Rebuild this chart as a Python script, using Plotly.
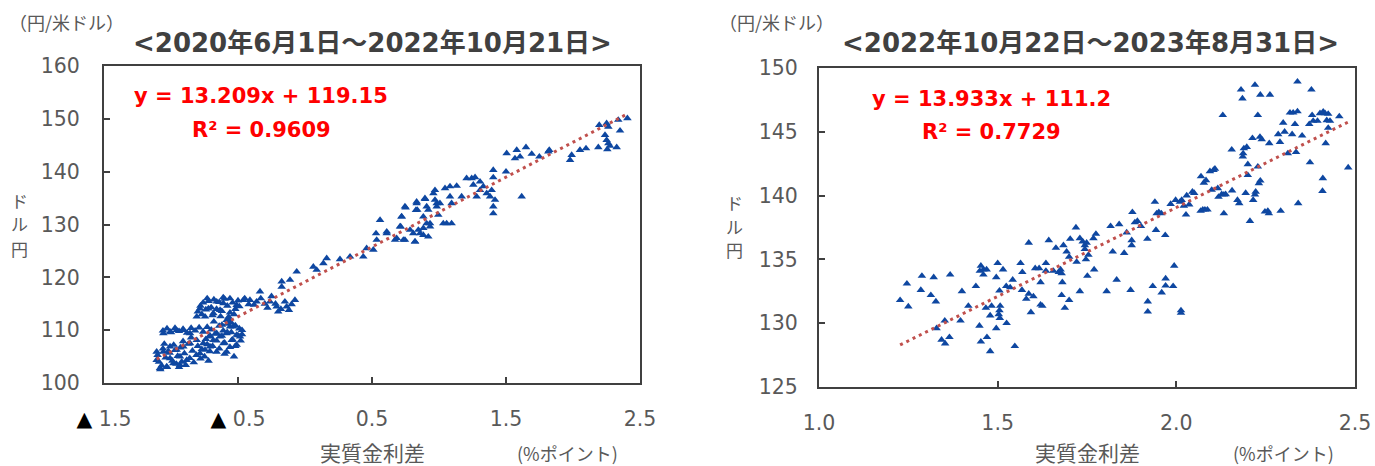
import plotly.graph_objects as go

W, H = 1375, 466

# ---------------- data ----------------
# Left panel: 2020/6/1 - 2022/10/21  (x: real rate differential, y: USD/JPY)
left_x = [
    0.970, 0.895, 0.833, 0.908, 0.983, 0.746, 0.828, 0.721, 0.709, 0.883, 0.933,
    0.560, 0.530, 0.535, 0.610, 0.684, 0.746, 0.784, 0.821, 0.858, 0.883, 0.920,
    0.510, 0.460, 0.435, 0.336, 0.261, 0.162, 0.137, 0.062, 0.087, -0.062,
    -0.112, -0.174, -0.174, -0.075, -0.137, -0.212, -0.261, -0.336, -0.361,
    -0.411, -0.460, -0.510, -0.560, -0.609, -0.659, -0.721, -0.784, -0.808,
    -0.746, -0.684, -0.634, -0.585, -0.535, -0.510, -0.547, -0.585, -0.609,
    -0.659, -0.709, -0.759, -0.808, -0.858, -0.908, -0.958, -1.007, -1.057,
    -0.858, -0.908, -0.958, -1.007, -1.057, -1.107, -1.107, -1.082, -1.032,
    -0.983, -0.933, -0.883, -1.007, -0.933, -0.784, -0.746, -0.709, -0.684,
    -0.634, -0.585, -0.560, -0.485, -0.510,
    0.610, 0.672, 0.734, 0.714, 0.721, 0.751, 0.821, 0.808, 0.846, 0.883, 0.933,
    0.908, 0.833, 0.838, 0.896, 0.920, 0.958, 0.970, 0.983, 0.995, 1.007, 1.032,
    1.057, 1.094, 1.045, 1.082, 1.132, 1.082, 1.094, 1.169, 1.206, 1.244, 1.269,
    1.306, 1.256, 1.281, 1.306, 1.331, 1.356, 1.381, 1.405, 1.405, 1.405, 1.405,
    1.393, 1.418, 1.505, 1.500, 1.567, 1.580, 1.605, 1.649, 1.617, 1.692, 1.749,
    1.816, 1.823, 1.978, 1.990, 2.052, 2.097, 2.189, 2.196, 2.251, 2.264, 2.239,
    2.251, 2.264, 2.276, 2.256, 2.326, 2.338, 2.351, 2.406,
    # dense cluster, upper band
    -0.80, -0.78, -0.76, -0.74, -0.72, -0.70, -0.68, -0.66, -0.64, -0.62, -0.60,
    -0.58, -0.56, -0.54, -0.52, -0.50, -0.77, -0.69, -0.63, -0.57, -0.53, -0.49,
    -0.73, -0.61,
    # band around 110
    -1.06, -1.03, -1.00, -0.97, -0.94, -0.91, -0.88, -0.85, -0.82, -0.79, -0.76,
    -0.73, -0.70, -0.67, -0.64, -0.61, -0.58, -0.55, -0.52, -0.49, -0.47,
    # lower-left blob
    -1.10, -1.09, -1.07, -1.06, -1.04, -1.03, -1.01, -0.99, -0.98, -0.96, -0.95,
    -0.93, -0.92, -0.90, -0.89, -0.87, -0.86, -0.84, -0.83, -0.81, -0.80, -0.78,
    -0.77, -0.75, -0.73, -0.72, -1.05, -1.02, -0.97, -0.91, -0.85, -0.94, -1.08,
    # middle blob
    -0.74, -0.71, -0.69, -0.66, -0.64, -0.62, -0.60, -0.58, -0.56, -0.54, -0.52,
    -0.50, -0.48, -0.47, -0.55, -0.62, -0.68, -0.60, -0.66, -0.71, -0.53, -0.57,
    # cluster around 115
    -0.33, -0.30, -0.28, -0.25, -0.22, -0.18, -0.15, -0.12, -0.10, -0.20, -0.38,
    -0.45, -0.42,
]
left_y = [
    136.5, 134.95, 134.3, 133.4, 134.0, 133.4, 132.74, 131.48, 129.6, 131.48, 130.2,
    130.85, 128.3, 127.07, 128.65, 127.4, 127.07, 128.96, 126.75, 128.3, 129.3, 127.7,
    125.2, 125.5, 123.9, 123.9, 123.4, 123.6, 122.65, 122.0, 121.4, 121.07,
    119.5, 119.2, 118.2, 115.7, 114.45, 114.45, 115.4, 117.3, 115.4,
    115.7, 115.7, 114.76, 116.0, 115.08, 115.4, 114.1, 114.1, 112.55,
    112.55, 113.2, 113.8, 111.9, 110.66, 109.1, 108.1, 105.9, 107.5,
    109.4, 108.8, 107.5, 108.1, 109.4, 110.0, 110.0, 109.7, 109.4,
    107.5, 106.9, 106.25, 106.9, 105.9, 105.9, 104.35, 102.8, 103.1,
    103.7, 103.4, 104.35, 104.67, 105.0, 105.6, 106.25, 106.9, 108.1,
    108.8, 109.4, 110.66, 108.8, 107.2,
    128.33, 127.07, 127.07, 129.6, 131.5, 133.2, 126.75, 128.33, 128.96, 128.0, 129.6,
    130.2, 134.0, 132.75, 134.8, 132.75, 135.9, 134.64, 133.4, 131.8, 134.0, 130.2,
    130.2, 130.2, 136.85, 137.2, 137.3, 135.3, 134.0, 135.3, 138.75, 138.75, 138.93,
    138.1, 137.5, 135.3, 136.5, 137.2, 135.9, 135.3, 140.3, 138.9, 133.4, 132.1,
    136.5, 134.64, 143.47, 140.0, 142.5, 144.1, 142.84, 144.6, 135.3, 143.35, 142.84,
    143.8, 144.1, 142.2, 143.15, 144.1, 144.4, 144.6, 148.83, 149.15, 148.5, 146.94,
    145.99, 145.36, 144.86, 144.23, 144.6, 149.8, 147.76, 150.1,
    113.5, 114.6, 115.2, 113.9, 115.5, 114.3, 115.8, 114.0, 115.3, 113.6, 115.9,
    114.6, 113.3, 115.2, 114.0, 115.6, 113.0, 112.8, 112.6, 112.1, 113.0, 114.5,
    116.0, 116.2,
    109.9, 110.3, 109.6, 110.4, 109.8, 110.2, 109.5, 110.4, 109.9, 110.5, 109.7,
    110.6, 110.1, 109.3, 110.8, 109.9, 111.2, 109.6, 110.9, 110.3, 109.2,
    105.3, 104.0, 103.3, 106.5, 104.8, 103.0, 105.7, 104.2, 107.2, 103.6, 105.1,
    106.7, 104.0, 105.6, 103.4, 107.4, 104.7, 106.1, 103.9, 105.3, 107.0, 104.6,
    106.4, 105.0, 107.3, 104.2, 107.4, 106.0, 106.2, 107.9, 108.6, 103.0, 102.6,
    108.3, 109.0, 107.0, 108.0, 106.5, 108.9, 107.6, 109.6, 106.8, 108.2, 107.0,
    109.0, 108.0, 110.0, 111.4, 111.0, 111.6, 105.5, 105.9, 106.0, 105.0, 112.5,
    116.0, 115.0, 114.2, 116.4, 115.0, 114.0, 115.4, 113.8, 114.9, 113.5, 114.8,
    116.0, 114.9,
]
left_slope, left_intercept, left_r2 = 13.209, 119.15, 0.9609

# Right panel: 2022/10/22 - 2023/8/31
right_x = [
    1.227, 1.246, 1.250, 1.288, 1.285, 1.321, 1.313, 1.327, 1.329, 1.352, 1.343,
    1.353, 1.365, 1.367, 1.396, 1.400, 1.418, 1.439, 1.450, 1.453, 1.460, 1.469,
    1.460, 1.449, 1.453, 1.470, 1.479, 1.467, 1.483, 1.479, 1.496, 1.500, 1.505,
    1.505, 1.503, 1.506, 1.507, 1.496, 1.515, 1.525, 1.524, 1.535, 1.542, 1.564,
    1.569, 1.568, 1.548, 1.580, 1.587, 1.593, 1.587, 1.600, 1.605, 1.616, 1.620,
    1.620, 1.625, 1.635, 1.635, 1.643, 1.656, 1.663, 1.671, 1.676, 1.679, 1.681,
    1.684, 1.679, 1.688, 1.693, 1.700, 1.703, 1.700, 1.721, 1.719,
    1.730, 1.738, 1.744, 1.749, 1.744, 1.754, 1.747, 1.730, 1.751, 1.770, 1.775,
    1.768, 1.805, 1.816, 1.822, 1.833, 1.840, 1.854, 1.861, 1.872, 1.875, 1.875,
    1.877, 1.884, 1.891, 1.901, 1.919, 1.920, 1.920, 1.934, 1.940, 1.943, 1.945,
    1.951, 1.958, 1.959, 1.969, 1.970, 1.970, 1.984, 1.991, 1.994, 1.998, 2.010,
    2.013, 2.013, 2.015, 2.021, 2.027, 2.029, 2.036, 2.045, 2.050, 2.068, 2.069,
    2.074, 2.077, 2.083, 2.080, 2.087, 2.094, 2.099, 2.104, 2.108, 2.116, 2.118,
    2.127, 2.133, 2.138, 2.133, 2.130, 2.155, 2.156, 2.171, 2.176, 2.181, 2.185,
    2.186, 2.187, 2.189, 2.197, 2.194, 2.200, 2.200, 2.206, 2.213, 2.215, 2.220,
    2.222, 2.220, 2.228, 2.228, 2.231, 2.235, 2.234, 2.239, 2.235, 2.248, 2.256,
    2.259, 2.262, 2.260, 2.285, 2.290, 2.292, 2.299, 2.303, 2.318, 2.324, 2.327,
    2.332, 2.339, 2.339, 2.312, 2.335, 2.341, 2.352, 2.372, 2.374, 2.378, 2.380,
    2.383, 2.395, 2.402, 2.410, 2.409, 2.411, 2.416, 2.421, 2.425, 2.425, 2.418,
    2.430, 2.456, 2.481,
]
right_y = [
    131.8, 133.1, 131.3, 133.7, 132.6, 133.6, 132.2, 131.7, 129.6, 130.2, 128.7,
    128.4, 128.9, 133.8, 130.2, 132.5, 131.35, 132.9, 134.1, 134.5, 134.2, 134.2,
    133.8, 129.8, 128.55, 128.9, 127.8, 131.2, 131.35, 130.6, 133.6, 134.7, 132.55,
    131.0, 130.7, 130.4, 131.35, 129.6, 134.2, 130.0, 132.9, 132.8, 133.4, 134.7,
    134.0, 132.6, 128.2, 131.9, 132.3, 130.85, 136.3, 132.1, 134.3, 134.3, 133.2,
    131.45, 131.35, 134.7, 134.1, 136.5, 134.1, 135.9, 134.0, 134.2, 133.9, 133.2,
    136.1, 132.2, 131.2, 135.6, 131.8, 136.6, 135.2, 134.8, 137.5,
    136.65, 136.4, 136.1, 136.3, 135.8, 135.35, 135.0, 132.5, 133.7, 134.2, 137.0,
    136.65, 132.5, 137.6, 135.6, 133.4, 137.75, 135.5, 137.1, 132.6, 136.1, 136.5,
    138.7, 137.9, 138.0, 137.6, 136.6, 131.7, 130.9, 132.9, 139.5, 137.3, 138.6,
    138.7, 138.6, 132.4, 136.9, 133.5, 132.94, 139.34, 132.9, 134.5, 139.65, 139.5,
    131.0, 130.8, 139.65, 139.2, 138.5, 140.0, 139.3, 140.3, 140.2, 138.8, 141.5,
    138.9, 141.0, 141.2, 138.9, 138.9, 141.9, 140.44, 142.0, 142.1, 140.57, 139.9,
    140.1, 140.07, 140.1, 138.6, 146.3, 143.6, 140.4, 139.65, 139.4, 148.3, 147.6,
    143.05, 143.3, 143.7, 143.8, 140.2, 141.6, 142.45, 138.0, 144.5, 139.65, 140.07,
    140.3, 148.67, 146.3, 142.27, 140.96, 141.17, 144.6, 144.4, 147.9, 138.74, 138.8,
    138.6, 147.9, 144.1, 144.8, 144.2, 138.8, 145.7, 145.0, 146.5, 144.8, 146.5,
    145.6, 148.93, 146.6, 143.3, 143.4, 139.4, 144.7, 145.6, 142.6, 148.3, 146.3,
    145.85, 145.85, 146.45, 141.35, 140.36, 146.58, 146.45, 145.9, 145.3, 146.4, 144.1,
    145.85, 146.2, 142.2,
]
right_slope, right_intercept, right_r2 = 13.933, 111.2, 0.7729

left_xticks = [-1.5, -0.5, 0.5, 1.5, 2.5]
left_xticktext = ["<span style='color:#000'>▲</span> 1.5",
                  "<span style='color:#000'>▲</span> 0.5", "0.5", "1.5", "2.5"]
left_yticks = [100, 110, 120, 130, 140, 150, 160]
right_xticks = [1.0, 1.5, 2.0, 2.5]
right_yticks = [125, 130, 135, 140, 145, 150]

left_title = "<2020年6月1日～2022年10月21日>"
right_title = "<2022年10月22日～2023年8月31日>"
unit_y = "（円/米ドル）"
unit_x = "(%ポイント)"
x_title = "実質金利差"
y_title_chars = ["ド", "ル", "円"]

# ---------------- styling ----------------
MARKER = "#0E47A1"
TREND = "#C0504D"
AXIS = "#404040"
TXT = "#595959"
LAT = "DejaVu Sans, Noto Sans CJK JP, sans-serif"
CJK = "Noto Sans CJK JP, sans-serif"


def px_x(p):
    return p / W


def px_y(p):
    return 1 - p / H


fig = go.Figure()


def add_panel(xs, ys, slope, intercept, xa, ya):
    fig.add_trace(go.Scatter(
        x=xs, y=ys, mode="markers", xaxis=xa, yaxis=ya,
        marker=dict(symbol="triangle-up", size=7.5, color=MARKER, line=dict(width=0)),
        showlegend=False, hoverinfo="x+y"))
    x0, x1 = min(xs), max(xs)
    fig.add_trace(go.Scatter(
        x=[x0, x1], y=[slope * x0 + intercept, slope * x1 + intercept],
        mode="lines", xaxis=xa, yaxis=ya,
        line=dict(color=TREND, width=3, dash="3px,4px"),
        showlegend=False, hoverinfo="skip"))


add_panel(left_x, left_y, left_slope, left_intercept, "x", "y")
add_panel(right_x, right_y, right_slope, right_intercept, "x2", "y2")

axis_common = dict(
    showline=True, linecolor=AXIS, linewidth=2, mirror=True,
    showgrid=False, zeroline=False, ticks="inside", ticklen=6, tickwidth=1.5,
    tickcolor=AXIS, tickfont=dict(family=LAT, size=20.5, color=TXT),
    automargin=False, fixedrange=True,
)

fig.update_layout(
    width=W, height=H, template="none",
    paper_bgcolor="white", plot_bgcolor="white",
    margin=dict(l=0, r=0, t=0, b=0),
    xaxis=dict(axis_common, domain=[px_x(104), px_x(640)], range=[-1.5, 2.5],
               tickvals=left_xticks, ticktext=left_xticktext, anchor="y",
               ticklabelstandoff=16),
    yaxis=dict(axis_common, domain=[px_y(383), px_y(66)], range=[100, 160],
               tickvals=left_yticks, anchor="x", ticklabelstandoff=18),
    xaxis2=dict(axis_common, domain=[px_x(819), px_x(1355)], range=[1.0, 2.5],
                tickvals=right_xticks, tickformat=".1f", anchor="y2",
                ticklabelstandoff=16),
    yaxis2=dict(axis_common, domain=[px_y(387), px_y(68)], range=[125, 150],
                tickvals=right_yticks, anchor="x2", ticklabelstandoff=15),
)


def ann(text, xpix, ypix, size, color, family, bold=False, xanchor="center"):
    if bold:
        text = "<b>" + text + "</b>"
    fig.add_annotation(
        text=text, x=px_x(xpix), y=px_y(ypix), xref="paper", yref="paper",
        xanchor=xanchor, yanchor="middle", showarrow=False, borderpad=0,
        font=dict(size=size, color=color, family=family))


# unit labels
ann(unit_y, 66, 22, 18, TXT, CJK)
ann(unit_y, 776, 22, 18, TXT, CJK)
# titles
ann(left_title, 372, 43, 26, AXIS, LAT, bold=True)
ann(right_title, 1090, 43, 26, AXIS, LAT, bold=True)
# regression equations
ann(f"y = {left_slope}x + {left_intercept}", 261, 96, 21, "#FF0000", LAT, bold=True)
ann(f"R² = {left_r2}", 261, 130, 21, "#FF0000", LAT, bold=True)
ann(f"y = {right_slope}x + {right_intercept}", 991, 99, 21, "#FF0000", LAT, bold=True)
ann(f"R² = {right_r2}", 991, 132, 21, "#FF0000", LAT, bold=True)
# y titles (stacked vertical text, one glyph per row)
for i, ch in enumerate(y_title_chars):
    ann(ch, 19, 200 + 24 * i, 17, TXT, CJK)
    ann(ch, 734, 202 + 24 * i, 17, TXT, CJK)
# x titles
ann(x_title, 372, 452, 21, TXT, CJK)
ann(x_title, 1087, 452, 21, TXT, CJK)
ann(unit_x, 567, 453, 18, TXT, CJK)
ann(unit_x, 1283, 453, 18, TXT, CJK)

fig.write_html(
    "out.html",
    config={"displayModeBar": False, "staticPlot": False},
    post_script="document.body.style.margin='0';document.body.style.overflow='hidden';",
)
